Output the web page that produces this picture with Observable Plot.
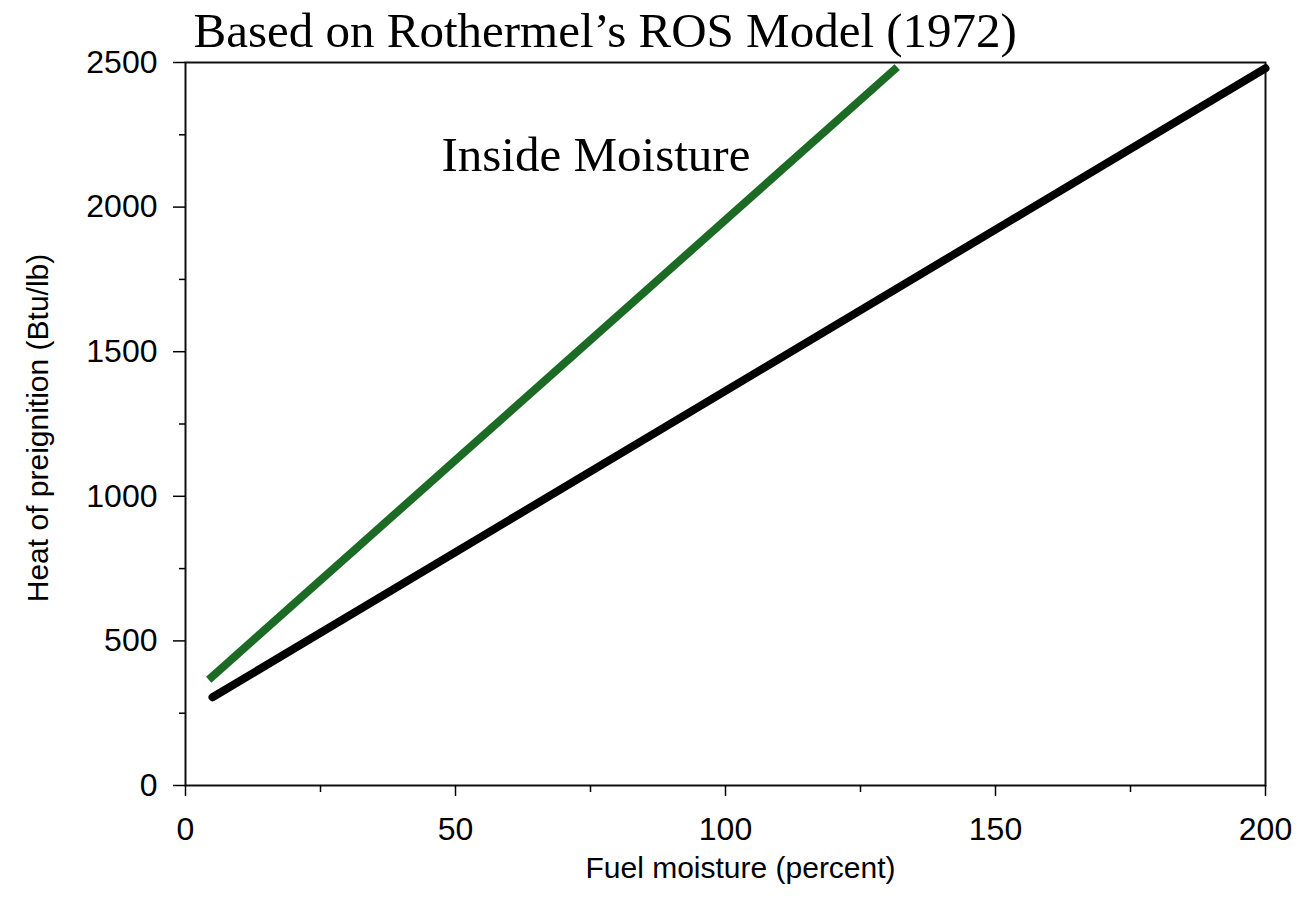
<!DOCTYPE html>
<html>
<head>
<meta charset="utf-8">
<script src="https://cdn.jsdelivr.net/npm/d3@7"></script>
<script src="https://cdn.jsdelivr.net/npm/@observablehq/plot@0.6"></script>
<style>
  html, body { margin: 0; padding: 0; background: #fff; }
</style>
</head>
<body>
<div id="chart"></div>
<script>
// Data
const moistureTotal = [5, 200];          // Fuel moisture (percent)
const heatTotal = [305, 2480];           // Heat of preignition (Btu/lb)
const moistureInside = [4.3, 131.8];
const heatInside = [366, 2484];

const xTicks = [0, 50, 100, 150, 200];
const xMinorTicks = [25, 75, 125, 175];
const yTicks = [0, 500, 1000, 1500, 2000, 2500];
const yMinorTicks = [250, 750, 1250, 1750, 2250];

const titleText = "Based on Rothermel\u2019s ROS Model (1972)";
const annotationText = ["Inside Moisture"];
const annotationX = [47.4];
const annotationY = [2126];
const xLabel = "Fuel moisture (percent)";
const yLabel = "Heat of preignition (Btu/lb)";

const totalData = moistureTotal.map((m, i) => ({x: m, y: heatTotal[i]}));
const insideData = moistureInside.map((m, i) => ({x: m, y: heatInside[i]}));
const annData = annotationText.map((t, i) => ({t, x: annotationX[i], y: annotationY[i]}));

const sans = "'Liberation Sans', Arial, Helvetica, sans-serif";
const serif = "'Liberation Serif', 'Times New Roman', serif";

const chart = Plot.plot({
  width: 1304,
  height: 913,
  marginLeft: 185,
  marginRight: 39,
  marginTop: 62,
  marginBottom: 128,
  style: {fontFamily: sans, background: "#fff", color: "#000"},
  x: {domain: [0, 200]},
  y: {domain: [0, 2500]},
  marks: [
    Plot.frame({stroke: "#111", strokeWidth: 2}),
    Plot.axisX({ticks: xTicks, tickSize: 11, tickPadding: 21, fontSize: 32, label: null, strokeWidth: 1.5, tickFormat: d => String(d)}),
    Plot.axisX({ticks: xMinorTicks, tickSize: 7, text: null, label: null, strokeWidth: 1.5}),
    Plot.axisY({ticks: yTicks, tickSize: 12, tickPadding: 16, fontSize: 32, label: null, strokeWidth: 1.5, tickFormat: d => String(d)}),
    Plot.axisY({ticks: yMinorTicks, tickSize: 6, text: null, label: null, strokeWidth: 1.5}),
    Plot.line(insideData, {x: "x", y: "y", stroke: "#1c6b24", strokeWidth: 8, strokeLinecap: "butt"}),
    Plot.line(totalData, {x: "x", y: "y", stroke: "#000", strokeWidth: 8, strokeLinecap: "round"}),
    Plot.text(annData, {x: "x", y: "y", text: "t", textAnchor: "start", lineAnchor: "bottom", fontFamily: serif, fontSize: 49, fill: "#000"}),
    Plot.text([titleText], {frameAnchor: "top-left", text: d => d, textAnchor: "start", lineAnchor: "bottom", dx: 8, dy: -16, fontFamily: serif, fontSize: 49, fill: "#000"}),
    Plot.text([xLabel], {frameAnchor: "bottom", text: d => d, textAnchor: "middle", lineAnchor: "middle", dx: 15, dy: 83, fontSize: 30, fill: "#000"}),
    Plot.text([yLabel], {frameAnchor: "left", text: d => d, textAnchor: "middle", lineAnchor: "middle", rotate: -90, dx: -147, dy: 4, fontSize: 30, fill: "#000"})
  ]
});
document.getElementById("chart").appendChild(chart);
</script>
</body>
</html>
